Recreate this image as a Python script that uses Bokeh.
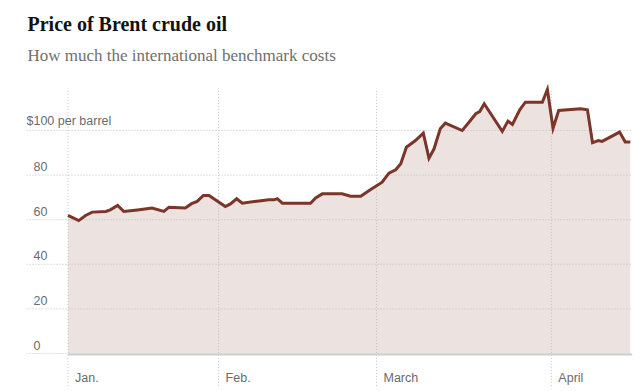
from bokeh.plotting import figure
from bokeh.core.properties import value
from bokeh.embed import file_html
from bokeh.resources import INLINE

# ---- data ----
# x: days since Jan 1, y: Brent price in $ per barrel
days = [4.3, 6.2, 7.4, 8.6, 11.0, 11.8, 13.1, 14.2, 16.6, 19.2,
        21.3, 22.2, 25.1, 26.2, 27.2, 28.3, 29.3, 32.2, 33.1, 34.2,
        35.2, 37.8, 39.9, 40.8, 41.4, 42.3, 47.3, 48.2, 49.4, 52.9,
        54.4, 56.2, 57.9, 60.0, 61.2, 62.4, 63.3, 64.3, 65.9, 67.3,
        68.3, 69.2, 70.3, 71.2, 74.2, 75.4, 76.6, 77.3, 78.1, 81.3,
        82.3, 83.1, 84.4, 85.4, 88.4, 89.3, 90.3, 91.3, 95.2, 96.4,
        97.3, 98.3, 99.0, 102.1, 103.1, 104.0]
price = [61.9, 59.6, 61.9, 63.4, 63.7, 64.4, 66.4, 63.7, 64.4, 65.2,
         63.7, 65.6, 65.3, 67.2, 68.2, 70.9, 70.9, 65.9, 67.1, 69.4,
         67.4, 68.3, 68.9, 68.9, 69.4, 67.4, 67.4, 69.8, 71.6, 71.6,
         70.5, 70.5, 73.4, 76.8, 80.9, 82.4, 85.1, 92.5, 95.5, 98.8,
         87.6, 91.8, 100.8, 103.3, 100.0, 103.7, 107.5, 108.5, 112.0, 99.6,
         104.2, 102.7, 109.3, 112.7, 112.7, 118.4, 101.0, 109.0, 109.7, 109.3,
         94.5, 95.5, 95.1, 99.3, 94.8, 94.8]

y_ticks = [0, 20, 40, 60, 80]
y_tick_labels = ["0", "20", "40", "60", "80"]
top_tick = [100]
top_tick_label = ["$100 per barrel"]
month_ticks = [4.3, 31, 59, 90]
month_labels = ["Jan.", "Feb.", "March", "April"]

title_text = "Price of Brent crude oil"
subtitle_text = "How much the international benchmark costs"

# ---- layout ----
X0, X1 = -3.06, 104.39
Y0, Y1 = -17.04, 158.3
GRID_TOP = 118.8

LINE = "#7b3629"
FILL = "#ece2df"
GRID = "#c0c0c0"
LABEL = "#6b6b6b"
SANS = value("Liberation Sans")
SERIF = value("Liberation Serif")

p = figure(width=642, height=391, x_range=(X0, X1), y_range=(Y0, Y1),
           output_backend="svg", toolbar_location=None, title=None,
           x_axis_location=None, y_axis_location=None,
           min_border_left=26, min_border_right=10,
           min_border_top=0, min_border_bottom=0,
           outline_line_color=None, background_fill_color="white")
p.grid.visible = False

# area under the line
p.varea(x=days, y1=0, y2=price, fill_color=FILL)

# horizontal dotted gridlines
all_y = y_ticks + top_tick
p.segment(x0=[X0] * len(all_y), x1=[X1] * len(all_y), y0=all_y, y1=all_y,
          line_color=GRID, line_width=1, line_dash="1 2")

# vertical month gridlines
p.segment(x0=month_ticks, x1=month_ticks, y0=[-14.5] * len(month_ticks),
          y1=[GRID_TOP] * len(month_ticks),
          line_color=GRID, line_width=1, line_dash="1 2")

# baseline under the area
p.segment(x0=[days[0]], x1=[X1], y0=[-0.5], y1=[-0.5], line_color="#cfcfcf", line_width=2)

# price line
p.line(days, price, line_color=LINE, line_width=3, line_join="miter")

# y labels
p.text(x=[X0] * len(y_ticks), y=[v + 3.8 for v in y_ticks], text=y_tick_labels,
       x_offset=7, text_font=SANS, text_font_size="12.5px", text_color=LABEL,
       text_baseline="middle", text_align="left")
p.text(x=[X0], y=[v + 4.35 for v in top_tick], text=top_tick_label,
       text_font=SANS, text_font_size="12.5px", text_color=LABEL,
       text_baseline="middle", text_align="left")

# month labels
p.text(x=month_ticks, y=[-11.1] * len(month_ticks), text=month_labels,
       x_offset=7, text_font=SANS, text_font_size="12.5px", text_color=LABEL,
       text_baseline="middle", text_align="left")

# title / subtitle
p.text(x=[X0], y=[147.6], text=[title_text], x_offset=1,
       text_font=SERIF, text_font_style="bold", text_font_size="20px",
       text_color="#121212", text_baseline="middle", text_align="left")
p.text(x=[X0], y=[133.6], text=[subtitle_text], x_offset=1,
       text_font=SERIF, text_font_size="17px",
       text_color="#6f6f6f", text_baseline="middle", text_align="left")

open("out.html", "w").write(file_html(p, INLINE))
